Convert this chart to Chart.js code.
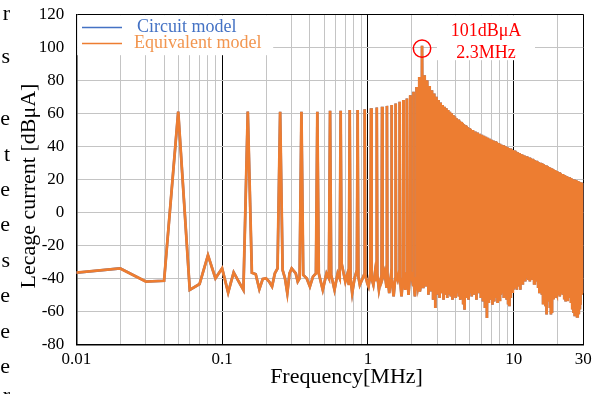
<!DOCTYPE html>
<html><head><meta charset="utf-8">
<script src="https://cdn.jsdelivr.net/npm/chart.js@4.4.0/dist/chart.umd.min.js"></script>
<style>html,body{margin:0;padding:0;background:#fff;overflow:hidden}</style>
</head><body>
<canvas id="c" width="603" height="394" style="width:603px;height:394px;display:block"></canvas>
<script>
// ---- data ----
const harmFreq = [0.05,0.15,0.25,0.35,0.45,0.55,0.65,0.75,0.85,0.95,1.05,1.15,1.25,1.35,1.45,1.55,1.65,1.75,1.85,1.95,2.05,2.15,2.25,2.35,
 2.45,2.55,2.65,2.75,2.85,2.95,3.05,3.15,3.25,3.35,3.45,3.55,3.65,3.75,3.85,3.95,4.05,4.15,4.25,4.35,4.45,4.55,4.65,4.75,4.85,4.95,5.05,
 5.25,5.45,5.65,5.85,6.05,6.25,6.45,6.65,6.85,7.05,7.25,7.45,7.65,7.85,8.05,8.25,8.45,8.65,8.85,9.05,9.25,9.45,9.65,9.85,10.05,
 10.35,10.65,10.95,11.25,11.55,11.85,12.15,12.45,12.75,13.05,13.35,13.65,13.95,14.25,14.55,14.85,15.15,15.45,15.75,16.05,16.35,16.65,16.95,17.25,17.55,17.85,18.15,18.45,18.75,19.05,19.35,19.65,19.95,
 20.45,20.95,21.45,21.95,22.45,22.95,23.45,23.95,24.45,24.95,25.45,25.95,26.45,26.95,27.45,27.95,28.45,28.95,29.45,29.95];
const harmVal = [61,61,61,61,61,61.5,61.5,62,62,62.5,63,63.5,64,64.5,65,66,67,68,69,71,73,76,82,101,
 83,80,76.5,74,72,70,68,66.5,65,64,63,62,61,60,59,58,57,56.2,55.5,54.8,54.1,53.4,52.8,52.2,51.6,51,50.5,
 49.8,49,48.3,47.6,47,46.4,45.8,45.2,44.6,44,43.5,43,42.5,42,41.5,41,40.6,40.2,39.8,39.4,39,38.6,38.2,37.8,37.4,
 36.9,36.4,35.9,35.4,34.9,34.4,34,33.6,33.2,32.8,32.4,32,31.6,31.2,30.8,30.4,30,29.7,29.4,29.1,28.7,28.3,27.9,27.5,27.1,26.8,26.5,26.2,25.9,25.6,25.3,25,24.7,
 24.2,23.7,23.2,22.8,22.4,22,21.6,21.2,20.8,20.4,20.1,19.8,19.5,19.2,18.9,18.6,18.3,18,17.8,17.6];

const floorFreq = [0.01,0.02,0.03,0.04,0.06,0.07,0.08,0.09,0.10,0.11,0.12,0.13,0.14,0.16,0.17,0.18,0.19,0.20,0.21,0.22,0.23,0.24,
 0.26,0.27,0.28,0.29,0.30,0.32,0.33,0.34,
 0.36,0.38,0.40,0.42,0.44, 0.46,0.49,0.52,0.54, 0.56,0.59,0.62,0.64, 0.66,0.70,0.72,0.74, 0.76,0.78,0.81,0.84,
 0.86,0.88,0.91,0.94, 0.96,0.99,1.01,1.04, 1.06,1.09,1.12,1.14, 1.16,1.19,1.24, 1.26,1.30,1.34, 1.36,1.40,1.44,
 1.46,1.50,1.54, 1.56,1.60,1.64, 1.66,1.70,1.74, 1.76,1.80,1.84, 1.86,1.90,1.94, 1.96,2.00,2.04, 2.06,2.10,2.14,
 2.16,2.20,2.24, 2.27,2.33, 2.40,
 2.50,2.60,2.70,2.80,2.90,3.00,3.10,3.20,3.30,3.40,3.50,3.60,3.70,3.80,3.90,4.00,4.10,4.20,4.30,4.40,4.50,4.60,4.70,4.80,4.90,5.00,
 5.15,5.35,5.55,5.75,5.95,6.15,6.35,6.55,6.75,6.95,7.15,7.35,7.55,7.75,7.95,8.15,8.35,8.55,8.75,8.95,9.15,9.35,9.55,9.75,9.95,
 10.2,10.5,10.8,11.1,11.4,11.7,12.0,12.3,12.6,12.9,13.2,13.5,13.8,14.1,14.4,14.7,15.0,15.3,15.6,15.9,16.2,16.5,16.8,17.1,17.4,17.7,18.0,18.3,18.6,18.9,19.2,19.5,19.8,
 20.2,20.7,21.2,21.7,22.2,22.7,23.2,23.7,24.2,24.7,25.2,25.7,26.2,26.7,27.2,27.7,28.2,28.7,29.2,29.7];
const floorVal = [-36.6,-34,-42,-41.5,-47,-43.5,-26,-40,-34,-48.7,-36.4,-42,-47,-36.6,-37.5,-46.6,-40.4,-40,-42,-45,-37,-34,
 -35,-40,-49,-37,-34,-37,-42,-40,
 -38,-40,-45,-39,-37, -37,-47,-37,-40, -38,-47,-37,-40, -31,-42,-38,-44, -40,-49,-40,-35,
 -39,-44,-41,-38, -38,-43,-45,-37, -40,-44,-36,-41, -38,-47,-38, -40,-36,-45, -37,-49,-38,
 -40,-51,-40, -38,-41,-36, -40,-51,-39, -37,-47,-37, -39,-50,-38, -36,-39,-44, -40,-51,-40,
 -38,-45,-40, -48,-42, -46,
 -45,-50,-48,-53,-58,-50,-52,-49,-53,-50,-52,-49,-51,-53,-50,-52,-49,-51,-53,-50,-55,-59,-52,-50,-53,-49,
 -51,-50,-53,-49,-52,-54,-58,-64,-55,-53,-56,-54,-52,-55,-53,-50,-49,-52,-50,-53,-55,-57,-52,-48,-47,
 -46,-47,-45,-47,-43,-41,-42,-40,-41,-42,-40,-41,-43,-41,-42,-45,-49,-48,-50,-55,-52,-57,-62,-54,-51,-58,-62,-61,-52,-50,-51,-49,-50,
 -50,-51,-49,-50,-52,-54,-53,-50,-52,-55,-58,-61,-63,-60,-63,-61,-58,-56,-50,-49];

const seriesNames = ['Circuit model', 'Equivalent model'];
const xTickValues = [0.01,0.02,0.03,0.04,0.05,0.06,0.07,0.08,0.09,0.1,0.2,0.3,0.4,0.5,0.6,0.7,0.8,0.9,1,2,3,4,5,6,7,8,9,10,20,30];
const xTickText   = ['0.01','','','','','','','','','0.1','','','','','','','','','1','','','','','','','','','10','','30'];
const xMajor = [0.01,0.1,1,10,30];
const yTickStep = 20, yMin = -80, yMax = 120;
const xTitle = 'Frequency[MHz]';
const yTitle = 'Lecage current [dBμA]';
const peakNote = ['101dBμA', '2.3MHz'];
const peakFreq = 2.35, peakLevel = 99.2;
const sideChars = ['r','s','e','t','e','e','s','e','e','e','r'];

// ---- build table ----
const pts = harmFreq.map((f,i)=>({x:f,y:harmVal[i]}))
  .concat(floorFreq.map((f,i)=>({x:f,y:floorVal[i]})))
  .sort((a,b)=>a.x-b.x);

const BLUE = '#4472C4', ORANGE = '#ED7D31';
const SERIF = '"Liberation Serif","Times New Roman",serif';

const decor = {
  id:'decor',
  afterDatasetsDraw(chart){
    const ctx = chart.ctx, xs = chart.scales.x, ys = chart.scales.y;
    ctx.save();
    // legend box
    ctx.fillStyle = '#fff';
    ctx.fillRect(77.2, 15.2, 196, 40);
    ctx.lineWidth = 1.5;
    ctx.strokeStyle = BLUE;
    ctx.beginPath(); ctx.moveTo(82, 27.5); ctx.lineTo(122, 27.5); ctx.stroke();
    ctx.strokeStyle = ORANGE;
    ctx.beginPath(); ctx.moveTo(82, 43.5); ctx.lineTo(122, 43.5); ctx.stroke();
    ctx.font = '18px ' + SERIF;
    ctx.textBaseline = 'middle'; ctx.textAlign = 'left';
    ctx.fillStyle = BLUE; ctx.fillText(seriesNames[0], 137, 27);
    ctx.fillStyle = '#F29650'; ctx.fillText(seriesNames[1], 134, 43);
    // annotation
    ctx.fillStyle = '#fff';
    ctx.fillRect(437, 15.2, 98, 45);
    ctx.fillStyle = '#FF0000';
    ctx.textAlign = 'center';
    ctx.fillText(peakNote[0], 486, 31);
    ctx.fillText(peakNote[1], 486, 53);
    ctx.strokeStyle = '#FF0000'; ctx.lineWidth = 1.5;
    ctx.beginPath();
    ctx.arc(xs.getPixelForValue(peakFreq), ys.getPixelForValue(peakLevel), 8.7, 0, Math.PI*2);
    ctx.stroke();
    ctx.restore();
  },
  afterDraw(chart){
    const ctx = chart.ctx;
    ctx.save();
    ctx.fillStyle = '#000';
    ctx.font = '22px ' + SERIF;
    ctx.textAlign = 'center'; ctx.textBaseline = 'middle';
    ctx.fillText(xTitle, 346.5, 377);
    ctx.save();
    ctx.translate(29, 186); ctx.rotate(-Math.PI/2);
    ctx.fillText(yTitle, 0, 0);
    ctx.restore();
    ctx.textAlign = 'right'; ctx.textBaseline = 'alphabetic';
    const base = [20, 63, 125, 161, 196, 231, 267, 302, 338, 373, 402];
    sideChars.forEach((c,i)=>ctx.fillText(c, 10, base[i]));
    ctx.restore();
  }
};

new Chart(document.getElementById('c'), {
  type:'line',
  data:{datasets:[
    {label:seriesNames[0], data:pts, borderColor:BLUE, borderWidth:2.5, pointRadius:0, tension:0, order:1},
    {label:seriesNames[1], data:pts, borderColor:ORANGE, borderWidth:2.8, pointRadius:0, tension:0, order:0}
  ]},
  options:{
    responsive:false, animation:false, devicePixelRatio:1,
    layout:{padding:{left:0, right:19.7, top:14.3, bottom:0}},
    plugins:{legend:{display:false}, tooltip:{enabled:false}},
    scales:{
      x:{type:'logarithmic', min:0.01, max:30,
        afterBuildTicks:s=>{ s.ticks = xTickValues.map(v=>({value:v})); },
        afterFit:s=>{ s.height = 49.7; s.paddingLeft = 0; s.paddingRight = 0; },
        ticks:{autoSkip:false, maxRotation:0, minRotation:0, padding:5, color:'#000',
          font:{family:SERIF, size:17}, callback:(v,i)=>xTickText[i]},
        grid:{drawTicks:false, lineWidth:1, color:c=> (c.tick && xMajor.includes(c.tick.value)) ? '#000' : '#C4C4C4'},
        border:{display:true, color:'#000', width:1.5}
      },
      y:{min:yMin, max:yMax,
        afterFit:s=>{ s.width = 76.3; s.paddingTop = 0; s.paddingBottom = 0; },
        ticks:{stepSize:yTickStep, padding:12, color:'#000', font:{family:SERIF, size:17}},
        grid:{drawTicks:false, lineWidth:1, color:c=> (c.tick && c.tick.value===yMax) ? '#000' : '#C4C4C4'},
        border:{display:true, color:'#000', width:1.5}
      }
    }
  },
  plugins:[decor]
});
</script>
</body></html>
